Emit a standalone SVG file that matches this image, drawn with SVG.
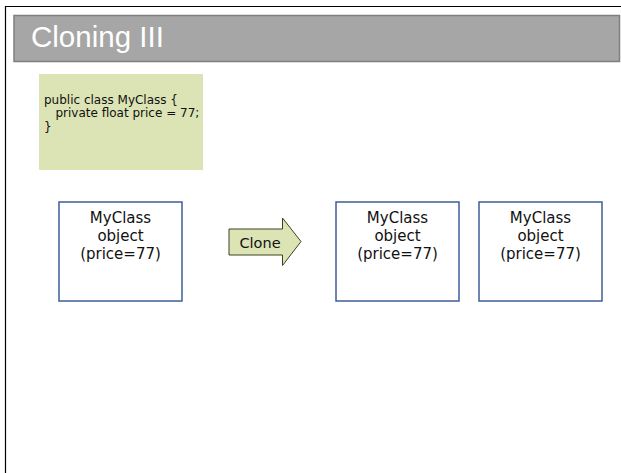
<svg xmlns="http://www.w3.org/2000/svg" width="621" height="473" viewBox="0 0 621 473">
  <style>
    .frame { fill: none; stroke: #000; stroke-width: 1.2; }
    .obj rect { fill: #fff; stroke: #3d5f98; stroke-width: 1.5; }
    .obj text { font-family: "DejaVu Sans", Verdana, sans-serif; font-size: 15px; fill: #111; text-anchor: middle; }
    .code { font-family: "DejaVu Sans", Verdana, sans-serif; font-size: 12px; fill: #111; }
  </style>

  <rect width="621" height="473" fill="#fff"/>
  <!-- slide frame -->
  <path class="frame" d="M5.5,473 V6.5 H621"/>

  <!-- title bar -->
  <g id="title">
    <rect x="14" y="15.5" width="605.5" height="46" fill="#a6a6a6" stroke="#7f7f7f" stroke-width="1.5"/>
    <text x="31" y="47" font-family="Liberation Sans, Arial, sans-serif" font-size="29.5" fill="#fff">Cloning III</text>
  </g>

  <!-- class source -->
  <g id="source">
    <rect x="39" y="74" width="164" height="96" fill="#dce4b5"/>
    <text class="code" x="44" y="103.5">public class MyClass {</text>
    <text class="code" x="44" y="117" xml:space="preserve">   private float price = 77;</text>
    <text class="code" x="44" y="130.5">}</text>
  </g>

  <!-- original object -->
  <g id="original" class="obj">
    <rect x="59" y="202" width="123" height="99"/>
    <text x="120.5" y="222.5">MyClass</text>
    <text x="120.5" y="240.5">object</text>
    <text x="120.5" y="258.5">(price=77)</text>
  </g>

  <!-- clone arrow -->
  <g id="connectors">
    <g id="clone-arrow">
      <path d="M229,229 H282.5 V218 L301,241.5 L282.5,265.5 V255 H229 Z" fill="#dce4b5" stroke="#404020" stroke-width="1"/>
      <text x="260" y="247.5" font-family="DejaVu Sans, Verdana, sans-serif" font-size="14.5" fill="#111" text-anchor="middle">Clone</text>
    </g>
  </g>

  <!-- objects after cloning -->
  <g id="copy-a" class="obj">
    <rect x="336" y="202" width="123" height="99"/>
    <text x="397.5" y="222.5">MyClass</text>
    <text x="397.5" y="240.5">object</text>
    <text x="397.5" y="258.5">(price=77)</text>
  </g>

  <g id="copy-b" class="obj">
    <rect x="479" y="202" width="123" height="99"/>
    <text x="540.5" y="222.5">MyClass</text>
    <text x="540.5" y="240.5">object</text>
    <text x="540.5" y="258.5">(price=77)</text>
  </g>
</svg>
